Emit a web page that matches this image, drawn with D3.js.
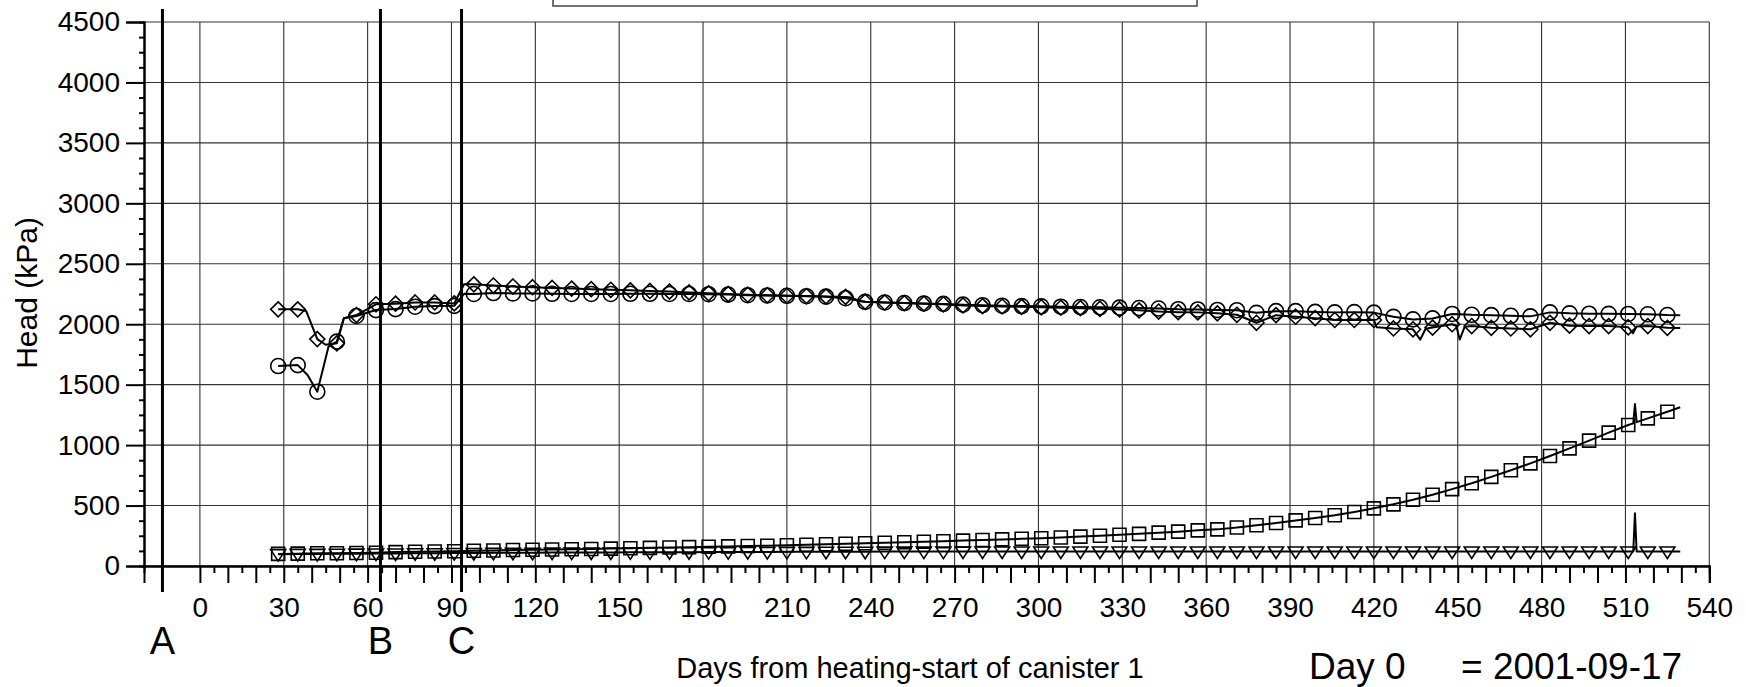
<!DOCTYPE html>
<html><head><meta charset="utf-8">
<script src="https://cdn.jsdelivr.net/npm/d3@7"></script>
<style>
html,body{margin:0;padding:0;background:#fff;}
svg{display:block;font-family:"Liberation Sans",Arial,sans-serif;}
</style></head>
<body>
<svg id="chart" width="1746" height="687"></svg>
<script>
// ---- data ----
const days = [28,35,42,49,56,63,70,77,84,91,98,105,112,119,126,133,140,147,154,161,168,175,182,189,196,203,210,217,224,231,238,245,252,259,266,273,280,287,294,301,308,315,322,329,336,343,350,357,364,371,378,385,392,399,406,413,420,427,434,441,448,455,462,469,476,483,490,497,504,511,518,525];
const diamondValues = [2123,2123,1877,1842,2076,2165,2170,2180,2180,2172,
 2330,2320,2312,2306,2300,2295,2290,2285,2280,2275,
 2270,2263,2256,2250,2244,2240,2236,2233,2230,2226,
 2186,2180,2175,2170,2165,2155,2150,2147,2144,2140,
 2137,2133,2128,2122,2115,2105,2100,2098,2090,2078,
 2012,2075,2062,2050,2035,2035,2035,1965,1958,1972,
 2000,1985,1970,1965,1958,2012,1988,1985,1985,1975,
 1985,1970];
const circleValues = [1654,1662,1442,1856,2068,2117,2125,2145,2150,2152,
 2250,2258,2255,2255,2252,2250,2250,2250,2252,2252,
 2250,2250,2248,2245,2240,2238,2235,2232,2228,2215,
 2185,2180,2175,2172,2168,2162,2157,2153,2150,2148,
 2145,2142,2140,2137,2134,2130,2124,2122,2118,2116,
 2094,2108,2108,2102,2098,2100,2096,2061,2040,2048,
 2085,2078,2075,2070,2065,2098,2090,2087,2086,2085,
 2082,2076];
const squareValues = [100,102,105,106,108,110,115,118,120,122,
 126,128,132,134,136,138,141,144,147,150,
 153,156,159,162,165,168,172,176,180,184,
 188,192,196,200,205,210,215,220,225,230,
 236,243,250,258,266,276,284,295,303,318,
 337,356,377,397,420,447,477,510,548,590,
 636,684,737,792,849,910,973,1037,1103,1166,
 1221,1276];
const triangleValues = [98,100,100,101,102,103,104,105,106,107,
 108,109,110,110,111,111,112,112,113,113,
 114,114,115,115,116,116,117,117,118,118,
 118,119,119,119,119,120,120,120,120,120,
 120,120,120,120,120,120,120,120,120,120,
 120,120,120,120,120,120,120,120,120,120,
 120,120,120,120,120,120,120,120,120,120,
 120,120];
// extra (unmarked) logger readings between the weekly markers
const diamondExtra = [[38,2110],[45,1830],[51.5,2050],[94.5,2330],[233,2222],[236,2190],[421,1975],[436.6,1873],[438.5,1962],[449.5,1985],[450.7,1873],[452.5,1980],[512.7,1925],[514,1982],[529.6,1968]];
const circleExtra = [[38.5,1580],[46,1814],[51.5,2050],[94.5,2252],[529.6,2075]];
const squareExtra = [[512.8,1180],[513.4,1340],[514,1190],[529.6,1313]];
const triangleExtra = [[512.8,120],[513.4,436],[514,120],[529.6,120]];
const eventLines = [{label:"A", day:-13.4},{label:"B", day:64.6},{label:"C", day:93.6}];
const xTickValues = [0,30,60,90,120,150,180,210,240,270,300,330,360,390,420,450,480,510,540];
const yTickValues = [0,500,1000,1500,2000,2500,3000,3500,4000,4500];

// ---- layout ----
const svg = d3.select("#chart");
const x = d3.scaleLinear().domain([-20,540]).range([144,1709.3]);
const y = d3.scaleLinear().domain([0,4500]).range([566,22]);
const FONT = "'Liberation Sans',Arial,sans-serif";

// legend box remnant at the top
svg.append("rect").attr("x",553).attr("y",-12).attr("width",644).attr("height",18)
  .attr("fill","#fff").attr("stroke","#444").attr("stroke-width",1.5);

// grid
const grid = svg.append("g");
grid.selectAll("line.v").data(xTickValues).join("line")
  .attr("x1",d=>x(d)).attr("x2",d=>x(d)).attr("y1",y(0)).attr("y2",y(4500))
  .attr("stroke","#333").attr("stroke-width",1.1);
grid.selectAll("line.h").data(yTickValues).join("line")
  .attr("x1",x(-20)).attr("x2",x(540)).attr("y1",d=>y(d)).attr("y2",d=>y(d))
  .attr("stroke","#333").attr("stroke-width",1.1);

// axes
const xAxisMinor = d3.axisBottom(x).tickValues(d3.range(0,541,5).filter(d=>d%10!==0)).tickSize(7).tickFormat("");
const xAxisMid = d3.axisBottom(x).tickValues(d3.range(0,541,10)).tickSize(17).tickFormat("");
const xAxisLab = d3.axisBottom(x).tickValues(xTickValues).tickSize(0).tickPadding(31).tickFormat(d3.format("d"));
function styleAxis(g){ g.select(".domain").attr("stroke","#000").attr("stroke-width",2);
  g.selectAll(".tick line").attr("stroke","#000").attr("stroke-width",2); }
svg.append("g").attr("transform",`translate(0,${y(0)})`).call(xAxisMinor).call(styleAxis);
svg.append("g").attr("transform",`translate(0,${y(0)})`).call(xAxisMid).call(styleAxis);
const xl = svg.append("g").attr("transform",`translate(0,${y(0)})`).call(xAxisLab);
xl.select(".domain").remove();
xl.selectAll("text").attr("font-family",FONT).attr("font-size",28).attr("fill","#000");

const yAxisMinor = d3.axisLeft(y).tickValues(d3.range(0,4501,125).filter(d=>d%500!==0)).tickSize(5).tickFormat("");
const yAxisMajor = d3.axisLeft(y).tickValues(yTickValues).tickSize(18).tickPadding(6).tickFormat(d3.format("d"));
svg.append("g").attr("transform",`translate(${x(-20)},0)`).call(yAxisMinor).call(styleAxis);
const ya = svg.append("g").attr("transform",`translate(${x(-20)},0)`).call(yAxisMajor).call(styleAxis);
ya.selectAll("text").attr("font-family",FONT).attr("font-size",28).attr("fill","#000");

// series
const line = d3.line().x(d=>x(d[0])).y(d=>y(d[1]));
function series(values, extra, shape){
  const pts = days.map((d,i)=>[d,values[i]]).concat(extra).sort((a,b)=>a[0]-b[0]);
  svg.append("path").datum(pts).attr("d",line).attr("fill","none")
    .attr("stroke","#000").attr("stroke-width",2).attr("stroke-linejoin","round");
  svg.append("g").selectAll("path").data(days.map((d,i)=>[d,values[i]])).join("path")
    .attr("transform",d=>`translate(${x(d[0])},${y(d[1])})`)
    .attr("d",shape).attr("fill","none").attr("stroke","#000").attr("stroke-width",1.6);
}
const shapeDiamond = "M0,-7.5L7.5,0L0,7.5L-7.5,0Z";
const shapeCircle = "M7.5,0A7.5,7.5 0 1,1 -7.5,0A7.5,7.5 0 1,1 7.5,0Z";
const shapeSquare = "M-6.5,-6.5H6.5V6.5H-6.5Z";
const shapeTriangle = "M-7.5,-4.5L7.5,-4.5L0,7Z";
series(squareValues, squareExtra, shapeSquare);
series(triangleValues, triangleExtra, shapeTriangle);
series(diamondValues, diamondExtra, shapeDiamond);
series(circleValues, circleExtra, shapeCircle);

// event lines
const ev = svg.append("g");
ev.selectAll("line").data(eventLines).join("line")
  .attr("x1",d=>x(d.day)).attr("x2",d=>x(d.day)).attr("y1",9).attr("y2",592)
  .attr("stroke","#000").attr("stroke-width",3);
ev.selectAll("text").data(eventLines).join("text")
  .attr("x",d=>x(d.day)).attr("y",654).attr("text-anchor","middle")
  .attr("font-family",FONT).attr("font-size",38).text(d=>d.label);

// titles
svg.append("text").attr("x",910).attr("y",678).attr("text-anchor","middle")
  .attr("font-family",FONT).attr("font-size",29).text("Days from heating-start of canister 1");
svg.append("text").attr("transform","translate(37,293) rotate(-90)").attr("text-anchor","middle")
  .attr("font-family",FONT).attr("font-size",30).text("Head (kPa)");
svg.append("text").attr("x",1309).attr("y",679).attr("font-family",FONT).attr("font-size",37).text("Day 0");
svg.append("text").attr("x",1461).attr("y",679).attr("font-family",FONT).attr("font-size",37).text("= 2001-09-17");
</script>
</body></html>
